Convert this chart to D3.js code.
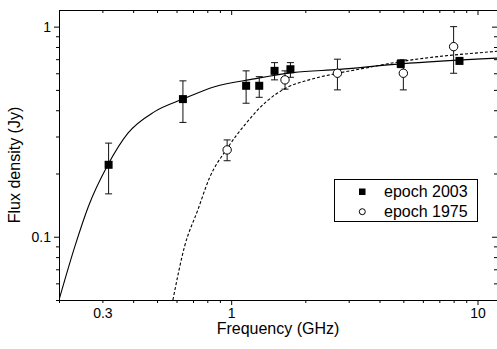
<!DOCTYPE html>
<html lang="en">
<head>
  <meta charset="UTF-8">
  <title>Flux density spectrum</title>
  <script src="https://d3js.org/d3.v7.min.js"></script>
  <style>
    body {
      margin: 0;
      padding: 0;
      background: #fff;
      font-family: 'Liberation Sans', Arial, sans-serif;
    }
    svg { display: block; }
    .axis path, .axis line { stroke: #000; }
    .axis text { font-size: 14px; font-family: 'Liberation Sans', Arial, sans-serif; fill: #000; }
  </style>
</head>
<body>
  <div id="chart"></div>

  <script>
    // epoch 2003 measurements (GHz, Jy, error low, error high)
    const freq2003 = [0.318, 0.637, 1.15, 1.30, 1.50, 1.74, 4.88, 8.45];
    const flux2003 = [0.22, 0.452, 0.523, 0.523, 0.616, 0.627, 0.665, 0.687];
    const lo2003   = [0.16, 0.35, 0.432, 0.461, 0.558, 0.574, 0.638, 0.665];
    const hi2003   = [0.279, 0.552, 0.616, 0.578, 0.674, 0.674, 0.695, 0.71];

    // epoch 1975 measurements
    const freq1975 = [0.963, 1.654, 2.70, 5.0, 8.0];
    const flux1975 = [0.259, 0.558, 0.60, 0.60, 0.803];
    const lo1975   = [0.23, 0.504, 0.50, 0.50, 0.60];
    const hi1975   = [0.289, 0.616, 0.70, 0.695, 1.0];

    // fitted curves
    const fit2003X = [0.2, 0.232, 0.263, 0.316, 0.381, 0.489, 0.637, 0.856, 1.24, 1.78, 2.75, 4.88, 12];
    const fit2003Y = [0.05, 0.09, 0.139, 0.22, 0.311, 0.394, 0.452, 0.518, 0.564, 0.604, 0.626, 0.665, 0.708];
    const fit1975X = [0.58, 0.647, 0.732, 0.817, 0.954, 1.15, 1.39, 1.67, 2.07, 2.70, 3.31, 4.88, 12];
    const fit1975Y = [0.05, 0.09, 0.134, 0.191, 0.259, 0.347, 0.44, 0.51, 0.558, 0.60, 0.627, 0.682, 0.763];

    const xTicks = [0.2, 0.3, 0.4, 0.5, 0.6, 0.7, 0.8, 0.9, 1, 2, 3, 4, 5, 6, 7, 8, 9, 10];
    const xLabels = [0.3, 1, 10];
    const yTicks = [0.05, 0.06, 0.07, 0.08, 0.09, 0.1, 0.2, 0.3, 0.4, 0.5, 0.6, 0.7, 0.8, 0.9, 1];
    const yLabels = [0.1, 1];
    const majors = [0.1, 1, 10];

    const W = 497, H = 349;
    const svg = d3.select("#chart").append("svg")
      .attr("width", W)
      .attr("height", H);

    const pLeft = 59, pRight = 497, pTop = 10, pBottom = 300;

    const x = d3.scaleLog().domain([0.2, 12]).range([pLeft, pRight]);
    const y = d3.scaleLog().domain([0.05, 1.2]).range([pBottom, pTop]);

    const fmt = d => String(d);

    function fixMajors(g) {
      g.selectAll(".tick line").each(function(d) {
        if (majors.includes(d)) {
          const l = d3.select(this);
          if (l.attr("y2") !== null) l.attr("y2", +l.attr("y2") * 5 / 3);
          if (l.attr("x2") !== null) l.attr("x2", +l.attr("x2") * 5 / 3);
        }
      });
    }

    // bottom axis
    svg.append("g")
      .attr("class", "axis")
      .attr("transform", "translate(0," + pBottom + ")")
      .call(d3.axisBottom(x).tickValues(xTicks).tickSizeInner(3).tickSizeOuter(0).tickPadding(5)
        .tickFormat(d => xLabels.includes(d) ? fmt(d) : ""))
      .call(fixMajors);

    // top axis (ticks inside)
    svg.append("g")
      .attr("class", "axis")
      .attr("transform", "translate(0," + pTop + ")")
      .call(d3.axisTop(x).tickValues(xTicks).tickSizeInner(-3).tickSizeOuter(0).tickFormat(""))
      .call(fixMajors);

    // left axis
    svg.append("g")
      .attr("class", "axis")
      .attr("transform", "translate(" + pLeft + ",0)")
      .call(d3.axisLeft(y).tickValues(yTicks).tickSizeInner(3).tickSizeOuter(0).tickPadding(5)
        .tickFormat(d => yLabels.includes(d) ? fmt(d) : ""))
      .call(fixMajors);

    // right axis (ticks inside)
    svg.append("g")
      .attr("class", "axis")
      .attr("transform", "translate(" + pRight + ",0)")
      .call(d3.axisRight(y).tickValues(yTicks).tickSizeInner(-3).tickSizeOuter(0).tickFormat(""))
      .call(fixMajors);

    // clip for the curves
    svg.append("clipPath").attr("id", "plot")
      .append("rect")
      .attr("x", pLeft).attr("y", pTop)
      .attr("width", pRight - pLeft).attr("height", pBottom - pTop);

    const line = d3.line()
      .x(d => x(d[0]))
      .y(d => y(d[1]))
      .curve(d3.curveMonotoneX);

    const curves = svg.append("g").attr("clip-path", "url(#plot)");

    curves.append("path")
      .datum(fit2003X.map((f, i) => [f, fit2003Y[i]]))
      .attr("d", line)
      .attr("fill", "none")
      .attr("stroke", "#000")
      .attr("stroke-width", 1.1);

    curves.append("path")
      .datum(fit1975X.map((f, i) => [f, fit1975Y[i]]))
      .attr("d", line)
      .attr("fill", "none")
      .attr("stroke", "#000")
      .attr("stroke-width", 1.1)
      .attr("stroke-dasharray", "3,2");

    // error bars
    function errorBars(fx, lo, hi) {
      const g = svg.append("g").attr("stroke", "#111").attr("stroke-width", 1);
      fx.forEach((f, i) => {
        const cx = x(f);
        g.append("line").attr("x1", cx).attr("x2", cx).attr("y1", y(lo[i])).attr("y2", y(hi[i]));
        g.append("line").attr("x1", cx - 3.5).attr("x2", cx + 3.5).attr("y1", y(lo[i])).attr("y2", y(lo[i]));
        g.append("line").attr("x1", cx - 3.5).attr("x2", cx + 3.5).attr("y1", y(hi[i])).attr("y2", y(hi[i]));
      });
    }
    errorBars(freq2003, lo2003, hi2003);
    errorBars(freq1975, lo1975, hi1975);

    // markers
    svg.append("g").selectAll("rect")
      .data(freq2003)
      .enter().append("rect")
      .attr("x", d => x(d) - 4)
      .attr("y", (d, i) => y(flux2003[i]) - 4)
      .attr("width", 8)
      .attr("height", 8)
      .attr("fill", "#000");

    svg.append("g").selectAll("circle")
      .data(freq1975)
      .enter().append("circle")
      .attr("cx", d => x(d))
      .attr("cy", (d, i) => y(flux1975[i]))
      .attr("r", 4.2)
      .attr("fill", "#fff")
      .attr("stroke", "#000")
      .attr("stroke-width", 1);

    // legend
    const lg = svg.append("g");
    lg.append("rect")
      .attr("x", 334.5).attr("y", 179.5)
      .attr("width", 143).attr("height", 42)
      .attr("fill", "#fff").attr("stroke", "#000").attr("stroke-width", 1);
    lg.append("rect")
      .attr("x", 359).attr("y", 188.5).attr("width", 6.5).attr("height", 6.5).attr("fill", "#000");
    lg.append("circle")
      .attr("cx", 362.3).attr("cy", 211.7).attr("r", 3).attr("fill", "#fff").attr("stroke", "#000");
    lg.append("text").attr("x", 384).attr("y", 197).attr("font-size", 16).text("epoch 2003");
    lg.append("text").attr("x", 384).attr("y", 217).attr("font-size", 16).text("epoch 1975");

    // axis titles
    svg.append("text")
      .attr("x", (pLeft + pRight) / 2)
      .attr("y", 334)
      .attr("text-anchor", "middle")
      .attr("font-size", 16)
      .text("Frequency (GHz)");

    svg.append("text")
      .attr("transform", "translate(20,165) rotate(-90)")
      .attr("text-anchor", "middle")
      .attr("font-size", 16)
      .text("Flux density (Jy)");
  </script>
</body>
</html>
